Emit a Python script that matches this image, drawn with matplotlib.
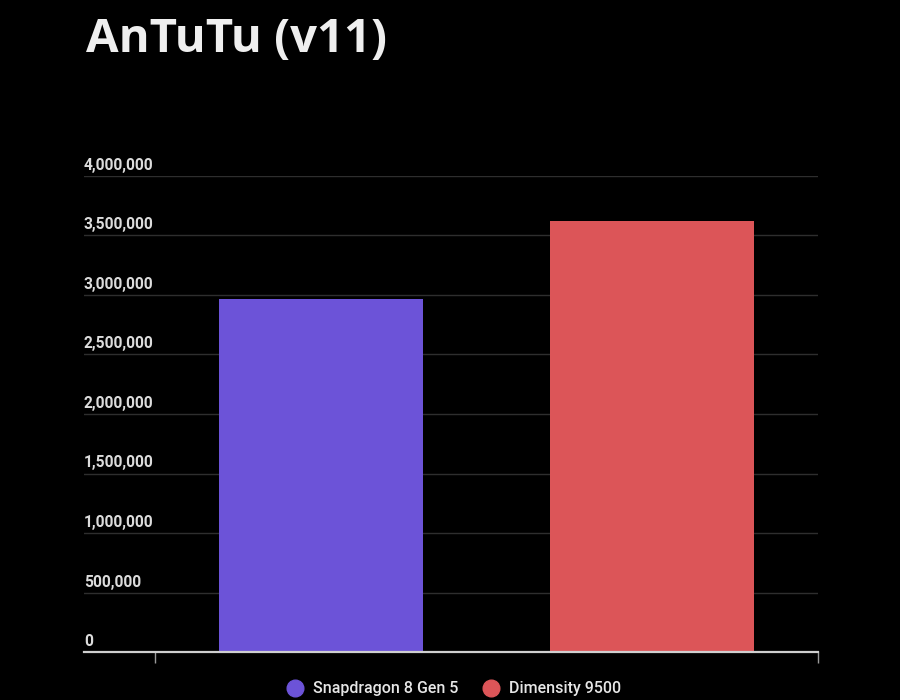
import matplotlib
matplotlib.use("Agg")
import matplotlib.pyplot as plt
from matplotlib.lines import Line2D
from matplotlib.transforms import offset_copy

# ---- data ----
chips = ["Snapdragon 8 Gen 5", "Dimensity 9500"]
scores = [2966000, 3624000]
colors = ["#6c53d8", "#dc5558"]
y_ticks = [0, 500000, 1000000, 1500000, 2000000, 2500000, 3000000, 3500000, 4000000]
title = "AnTuTu (v11)"

W, H = 900, 700
fig = plt.figure(figsize=(W / 100, H / 100), dpi=100, facecolor="black")
ax = fig.add_axes([84 / W, (H - 652) / H, (818 - 84) / W, (652 - 176) / H])
ax.set_facecolor("black")

xs = list(range(len(chips)))
ax.bar(xs, scores, width=0.615, color=colors, zorder=3)

ax.set_ylim(0, 4000000)
ax.set_xlim(-0.714, 1.5)

# grid
ax.set_yticks(y_ticks)
ax.yaxis.grid(True, color="#2e2e2e", linewidth=1.0, zorder=0)
ax.tick_params(axis="y", length=0, labelleft=False)
for s in ["top", "right", "left"]:
    ax.spines[s].set_visible(False)
ax.spines["bottom"].set_color("#cfcfcf")
ax.spines["bottom"].set_linewidth(1.6)
ax.spines["bottom"].set_zorder(4)

# x ticks at category edges
ax.set_xticks([-0.5, 1.5])
ax.set_xticklabels([])
ax.tick_params(axis="x", length=8, width=1.0, color="#9a9a9a", direction="out")

# y labels, left aligned sitting above gridlines
trans = offset_copy(ax.get_yaxis_transform(), fig=fig, x=0, y=3, units="dots")
for v in y_ticks:
    ax.text(0, v, f"{v:,}", transform=trans, ha="left", va="bottom",
            fontsize=11.2, fontfamily="Roboto", fontweight="bold", color="#dcdcdc", zorder=5)

# title
fig.text(86 / W, 1 - 52 / H, title, ha="left", va="baseline",
         fontsize=34, fontfamily="Open Sans", fontweight="bold", color="#efefef")

# legend
handles = [Line2D([], [], marker="o", linestyle="none", markersize=12,
                  markerfacecolor=c, markeredgecolor=c) for c in colors]
fig.legend(handles, chips, loc="center", bbox_to_anchor=(0.5, 11 / H),
           ncol=2, frameon=False, handletextpad=0.15, columnspacing=1.0,
           prop={"family": "Roboto", "size": 11.5, "weight": "medium"},
           labelcolor="#e6e6e6")

fig.savefig("out.png", dpi=100, facecolor="black")
